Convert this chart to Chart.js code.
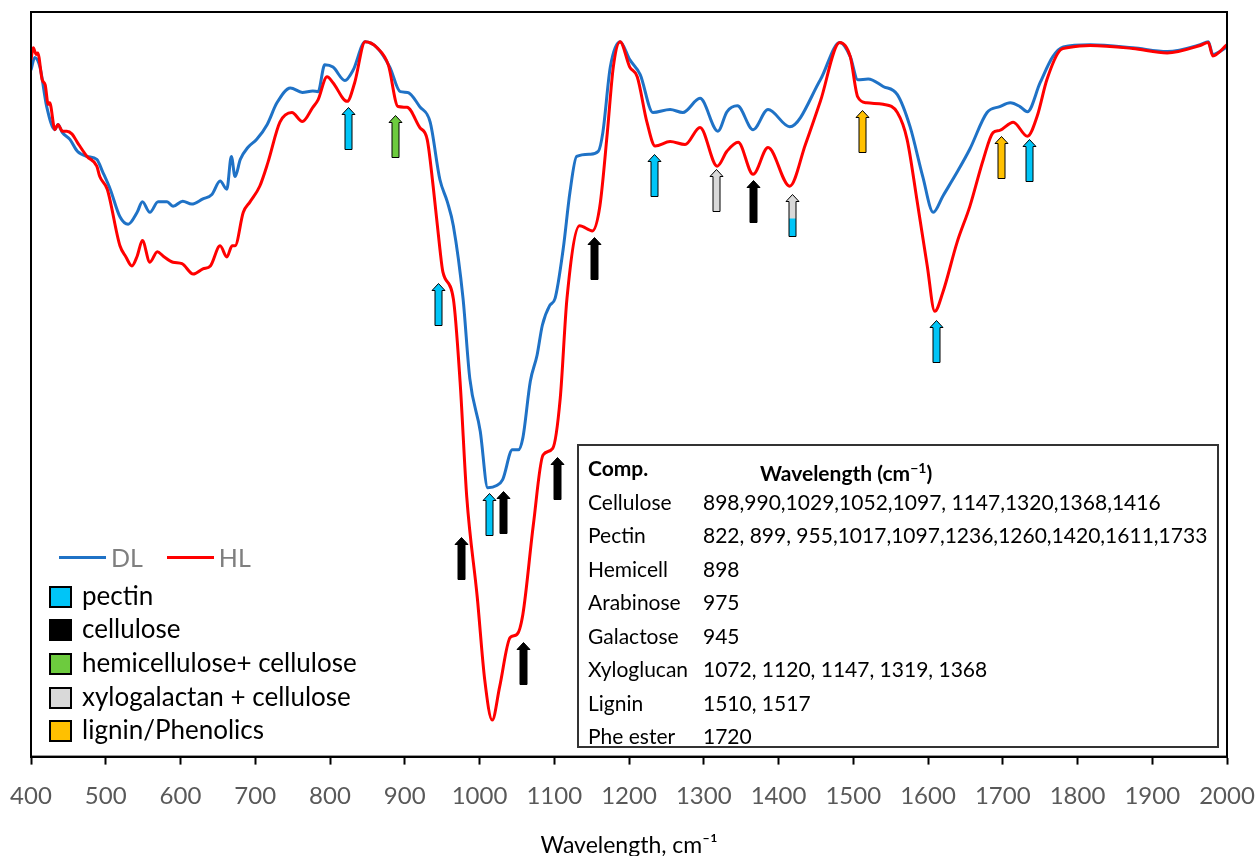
<!DOCTYPE html>
<html>
<head>
<meta charset="utf-8">
<script src="https://cdn.jsdelivr.net/npm/chart.js@4.4.1/dist/chart.umd.min.js"></script>
<style>
  body { margin: 0; background: #fff; }
  #wrap { position: relative; width: 1257px; height: 856px; font-family: Lato, sans-serif; }
  #chart { position: absolute; left: 0; top: 0; }
  .lineKey { position: absolute; top: 540px; left: 59px; font-size: 25px; color: #7f7f7f; display: flex; align-items: center; height: 34px; }
  .lineKey span.bar { display: inline-block; width: 47px; height: 3px; margin-right: 5px; }
  .lineKey span.lbl { margin-right: 24px; }
  #compKey { position: absolute; left: 49px; top: 580px; }
  #compKey .row { display: flex; align-items: center; height: 33.6px; font-size: 26px; color: #000; }
  #compKey .sq { width: 19px; height: 18px; border: 2px solid #000; margin-right: 10px; }
  #compKey .txt { position: relative; top: -2px; }
  #table { position: absolute; left: 577px; top: 444px; width: 638px; height: 300px; border: 2px solid #333; }
  #table .r { position: absolute; left: 0; height: 33.5px; line-height: 33.5px; font-size: 21px; white-space: nowrap; }
  #table .c1 { position: absolute; left: 9px; }
  #table .c2 { position: absolute; left: 124px; }
</style>
</head>
<body>
<div id="wrap">
  <canvas id="chart" width="1257" height="856"></canvas>
  <div class="lineKey"><span class="bar" style="background:#1f72c6"></span><span class="lbl">DL</span><span class="bar" style="background:#ff0000"></span><span class="lbl">HL</span></div>
  <div id="compKey"></div>
  <div id="table"></div>
</div>
<script>
// DL spectrum (wavenumber, relative transmittance)
const dlWave = [400,405,412,421,432,436,442,452,462,475,488,496,506,519,530,542,549,559,570,582,
  590,603,615,630,642,653,662,668,673,680,690,702,716,729,747,763,777,784,793,804,
  820,831,847,863,880,894,904,920,934,947,957,965,978,987,1001,1011,1023,1031,1044,1052,
  1058,1068,1077,1084,1094,1101,1112,1121,1130,1148,1159,1165,1175,1188,1201,1215,1232,1255,1272,1295,
  1319,1331,1345,1366,1386,1415,1456,1482,1496,1506,1520,1540,1559,1576,1593,1607,1620,1639,1656,1679,
  1696,1710,1723,1733,1750,1767,1781,1817,1874,1920,1964,1975,1981,2000];
const dlVal = [92.2,93.9,92.6,87.3,84.2,84.9,83.8,82.9,81.3,80.6,80.2,78.5,76.2,72.5,71.5,73.1,74.5,73.1,74.5,74.5,
  73.9,74.6,74.2,74.9,75.5,77.3,76.2,80.6,77.9,80.2,81.8,82.9,84.9,87.8,89.8,89.2,89.4,89.3,92.9,92.6,
  90.8,92.2,96.0,95.2,92.6,89.3,89.2,87.3,85.2,77.5,74.5,71.3,61.5,50.8,43.7,36.1,36.4,37.2,41.2,41.2,
  42.8,50.4,53.9,57.9,60.6,61.5,68.2,75.8,80.6,80.9,81.3,83.8,92.6,96.0,93.6,91.6,86.5,86.9,86.5,88.4,
  84.0,86.6,87.4,84.2,86.9,84.6,90.9,95.9,94.0,90.9,91.0,90.0,88.9,84.6,77.9,73.1,75.3,78.5,81.6,86.5,
  87.3,87.8,87.3,86.6,90.5,94.0,95.3,95.6,95.2,94.7,95.6,96.0,94.3,95.3];

// HL spectrum
const hlWave = [400,403,407,409,415,419,423,425,432,436,442,448,455,462,475,488,492,502,519,527,
  535,542,549,559,569,577,590,602,617,630,640,653,662,669,673,684,693,706,717,733,
  749,763,777,784,796,804,823,833,847,863,878,891,903,920,930,938,947,951,965,974,
  983,997,1007,1017,1027,1041,1050,1058,1072,1085,1098,1108,1117,1134,1151,1161,1171,1179,1188,1201,
  1211,1224,1235,1255,1275,1295,1318,1331,1346,1366,1386,1415,1436,1456,1482,1496,1506,1518,1540,1559,
  1572,1585,1599,1609,1620,1639,1656,1674,1687,1696,1714,1733,1746,1759,1777,1786,1817,1874,1920,1964,
  1975,1981,2000];
const hlVal = [93.6,95.2,94.3,94.5,90.9,90.2,87.6,87.8,84.2,84.9,84.0,84.0,83.6,82.5,80.6,79.3,77.9,76.2,68.6,67.1,
  65.9,67.2,69.3,66.4,67.8,67.2,66.4,66.2,64.8,65.5,65.9,68.6,67.1,68.6,68.6,73.1,74.5,76.6,79.8,85.2,
  86.5,85.3,87.2,88.2,91.3,90.5,88.0,90.5,96.0,95.2,92.9,87.3,87.2,84.5,82.9,76.6,68.2,65.1,61.5,50.4,
  34.8,21.4,10.3,4.9,9.4,16.0,16.4,19.1,31.1,40.5,41.4,48.1,61.5,71.3,70.6,73.9,83.8,92.6,96.0,92.6,
  91.3,85.2,82.0,82.6,82.2,84.5,79.3,81.3,82.5,78.2,81.8,76.6,82.2,88.0,95.9,94.0,88.6,87.8,87.6,86.5,
  82.9,74.9,65.9,59.8,62.4,69.1,73.9,80.2,83.8,84.1,85.2,83.3,86.0,90.9,94.9,95.2,95.5,95.1,94.5,95.5,
  95.9,94.1,95.6];

// Band markers (arrow tip at wavenumber / value)
const arrowWave = [824,887,944,975,1013,1031,1058,1104,1153,1233,1316,1366,1418,1512,1611,1698,1735];
const arrowTip = [87.3,86.2,63.6,29.5,35.4,35.7,15.4,40.2,69.8,80.9,78.9,77.5,75.5,86.9,58.6,83.4,82.9];
const arrowType = ['pectin','hemi','pectin','cellulose','pectin','cellulose','cellulose','cellulose','cellulose',
  'pectin','xylo','cellulose','xylo+pectin','lignin','pectin','lignin','pectin'];

const xTicks = [400,500,600,700,800,900,1000,1100,1200,1300,1400,1500,1600,1700,1800,1900,2000];

// Legend of components
const compKeys = ['pectin','cellulose','hemi','xylo','lignin'];
const compLabels = ['pectin','cellulose','hemicellulose+ cellulose','xylogalactan + cellulose','lignin/Phenolics'];
const compColors = { pectin: '#00c5f7', cellulose: '#000000', hemi: '#6dcb3e', xylo: '#d9d9d9', lignin: '#ffc000' };

// Assignment table
const tableComp = ['Cellulose','Pectin','Hemicell','Arabinose','Galactose','Xyloglucan','Lignin','Phe ester'];
const tableWaves = ['898,990,1029,1052,1097, 1147,1320,1368,1416',
  '822, 899, 955,1017,1097,1236,1260,1420,1611,1733',
  '898','975','945','1072, 1120, 1147, 1319, 1368','1510, 1517','1720'];

// build html legend
const compKey = document.getElementById('compKey');
compKeys.forEach((k, i) => {
    const row = document.createElement('div');
    row.className = 'row';
    row.innerHTML = `<span class="sq" style="background:${compColors[k]}"></span><span class="txt">${compLabels[i]}</span>`;
    compKey.appendChild(row);
});

// build table
const table = document.getElementById('table');
const head = document.createElement('div');
head.className = 'r';
head.style.top = '5px';
head.style.fontWeight = 'bold';
head.innerHTML = '<span class="c1">Comp.</span><span class="c2" style="left:181px">Wavelength (cm<sup style="font-size:14px;vertical-align:8px">−1</sup>)</span>';
table.appendChild(head);
tableComp.forEach((c, i) => {
    const r = document.createElement('div');
    r.className = 'r';
    r.style.top = (5 + 33.5 * (i + 1)) + 'px';
    r.innerHTML = `<span class="c1">${c}</span><span class="c2">${tableWaves[i]}</span>`;
    table.appendChild(r);
});

function drawArrow(ctx, cx, tip, type) {
    const len = 42, sw = 7, hw = 13, hh = 7;
    const path = () => {
        ctx.beginPath();
        ctx.moveTo(cx, tip);
        ctx.lineTo(cx + hw / 2, tip + hh);
        ctx.lineTo(cx + sw / 2, tip + hh);
        ctx.lineTo(cx + sw / 2, tip + len);
        ctx.lineTo(cx - sw / 2, tip + len);
        ctx.lineTo(cx - sw / 2, tip + hh);
        ctx.lineTo(cx - hw / 2, tip + hh);
        ctx.closePath();
    };
    ctx.save();
    if (type === 'xylo+pectin') {
        path();
        ctx.fillStyle = compColors.xylo;
        ctx.fill();
        ctx.fillStyle = compColors.pectin;
        ctx.fillRect(cx - sw / 2, tip + 24, sw, len - 24);
    } else {
        path();
        ctx.fillStyle = compColors[type];
        ctx.fill();
    }
    path();
    ctx.strokeStyle = '#000';
    ctx.lineWidth = 1;
    ctx.stroke();
    ctx.restore();
}

const framePlugin = {
    id: 'frame',
    afterDatasetsDraw(chart) {
        const { ctx, chartArea: a, scales: { x, y } } = chart;
        arrowWave.forEach((w, i) => {
            drawArrow(ctx, Math.round(x.getPixelForValue(w)) + 0.5, Math.round(y.getPixelForValue(arrowTip[i])) + 0.5, arrowType[i]);
        });
        ctx.save();
        ctx.strokeStyle = '#000';
        ctx.lineWidth = 2;
        ctx.strokeRect(a.left, a.top, a.width, a.height);
        ctx.restore();
    }
};

const ctx = document.getElementById('chart').getContext('2d');
new Chart(ctx, {
    type: 'line',
    data: {
        datasets: [
            {
                label: 'HL',
                data: hlWave.map((w, i) => ({ x: w, y: hlVal[i] })),
                borderColor: '#ff0000',
                borderWidth: 3,
                pointRadius: 0,
                cubicInterpolationMode: 'monotone',
                order: 0
            },
            {
                label: 'DL',
                data: dlWave.map((w, i) => ({ x: w, y: dlVal[i] })),
                borderColor: '#1f72c6',
                borderWidth: 3,
                pointRadius: 0,
                cubicInterpolationMode: 'monotone',
                order: 1
            }
        ]
    },
    options: {
        responsive: false,
        animation: false,
        layout: { autoPadding: false, padding: { left: 31, right: 30, top: 12, bottom: 0 } },
        plugins: {
            legend: { display: false },
            tooltip: { enabled: false }
        },
        scales: {
            x: {
                type: 'linear',
                min: 400,
                max: 2000,
                afterBuildTicks: axis => { axis.ticks = xTicks.map(v => ({ value: v })); },
                // tick padding would otherwise widen the side margins
                afterFit: axis => { axis.paddingLeft = 0; axis.paddingRight = 0; },
                grid: { drawOnChartArea: false, drawTicks: true, tickLength: 8, tickColor: '#000', tickWidth: 2 },
                border: { display: true, color: '#000', width: 2 },
                ticks: {
                    color: '#595959',
                    padding: 17,
                    maxRotation: 0,
                    font: { family: 'Lato', size: 24 },
                    callback: v => String(v)
                },
                title: {
                    display: true,
                    text: 'Wavelength, cm⁻¹',
                    color: '#000',
                    font: { family: 'Lato', size: 23 },
                    padding: { top: 4, bottom: -3 }
                }
            },
            y: {
                display: false,
                min: 0,
                max: 100
            }
        }
    },
    plugins: [framePlugin]
});
</script>
</body>
</html>
